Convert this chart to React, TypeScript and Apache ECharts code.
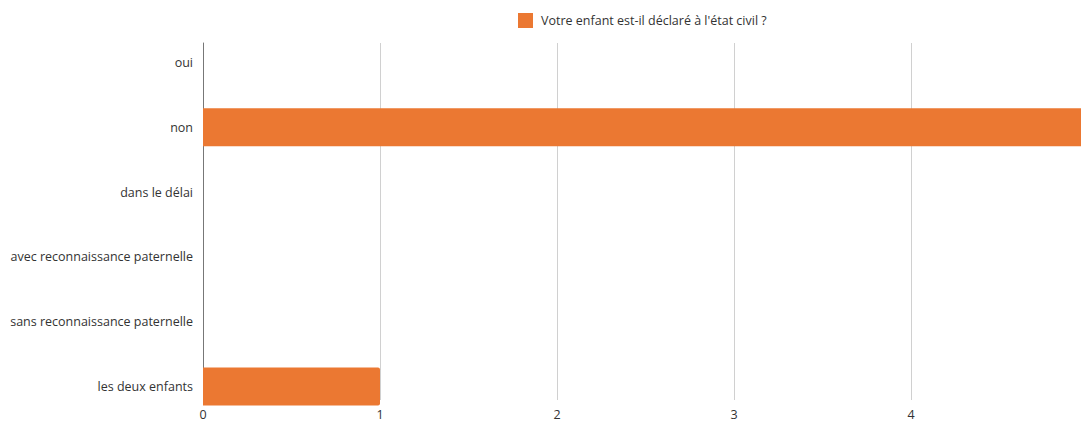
import React, { useEffect, useRef } from "react";
import * as echarts from "echarts";

const categories = [
  "oui",
  "non",
  "dans le délai",
  "avec reconnaissance paternelle",
  "sans reconnaissance paternelle",
  "les deux enfants",
];
const values = [0, 5, 0, 0, 0, 1];
const seriesName = "Votre enfant est-il déclaré à l'état civil ?";
const xTicks = [0, 1, 2, 3, 4, 5];

export default function App() {
  const ref = useRef<HTMLDivElement>(null);
  useEffect(() => {
    if (!ref.current) return;
    const chart = echarts.init(ref.current, undefined, { renderer: "svg" });
    const font = "'Open Sans', sans-serif";
    chart.setOption({
      animation: false,
      textStyle: { fontFamily: font },
      legend: {
        left: 513,
        top: 8,
        itemWidth: 15,
        itemHeight: 15,
        icon: "rect",
        data: [seriesName],
        textStyle: { fontFamily: font, fontSize: 12.5, color: "#333", padding: [0, 0, 0, 3] },
      },
      grid: [
        { left: 203, top: 30, width: 885, height: 389 },
        { left: 203, top: 43, width: 885, height: 362 },
      ],
      xAxis: [
        { gridIndex: 0, type: "value", min: xTicks[0], max: xTicks[xTicks.length - 1], interval: 1, show: false },
        {
          gridIndex: 1,
          type: "value",
          min: xTicks[0],
          max: xTicks[xTicks.length - 1],
          interval: 1,
          axisLine: { show: false },
          axisTick: { show: false },
          axisLabel: { fontFamily: font, fontSize: 12.5, color: "#333", margin: 8 },
          splitLine: { show: true, lineStyle: { color: "#d0d0d0", width: 1 } },
        },
      ],
      yAxis: [
        {
          gridIndex: 0,
          type: "category",
          data: categories,
          inverse: true,
          axisLine: { show: false },
          axisTick: { show: false },
          splitLine: { show: false },
          axisLabel: { fontFamily: font, fontSize: 12.5, color: "#333", margin: 10 },
        },
        {
          gridIndex: 1,
          type: "value",
          axisLine: { show: true, lineStyle: { color: "#777", width: 1 } },
          axisTick: { show: false },
          axisLabel: { show: false },
          splitLine: { show: false },
        },
      ],
      series: [
        {
          name: seriesName,
          type: "bar",
          xAxisIndex: 0,
          yAxisIndex: 0,
          data: values,
          barWidth: 38,
          itemStyle: { color: "#EB7832", borderRadius: [0, 2, 2, 0] },
        },
      ],
    });
    return () => chart.dispose();
  }, []);
  return (
    <div
      style={{
        position: "absolute",
        left: 0,
        top: 0,
        width: 1081,
        height: 421,
        overflow: "hidden",
      }}
    >
      <div ref={ref} style={{ width: 1100, height: 421 }} />
    </div>
  );
}
